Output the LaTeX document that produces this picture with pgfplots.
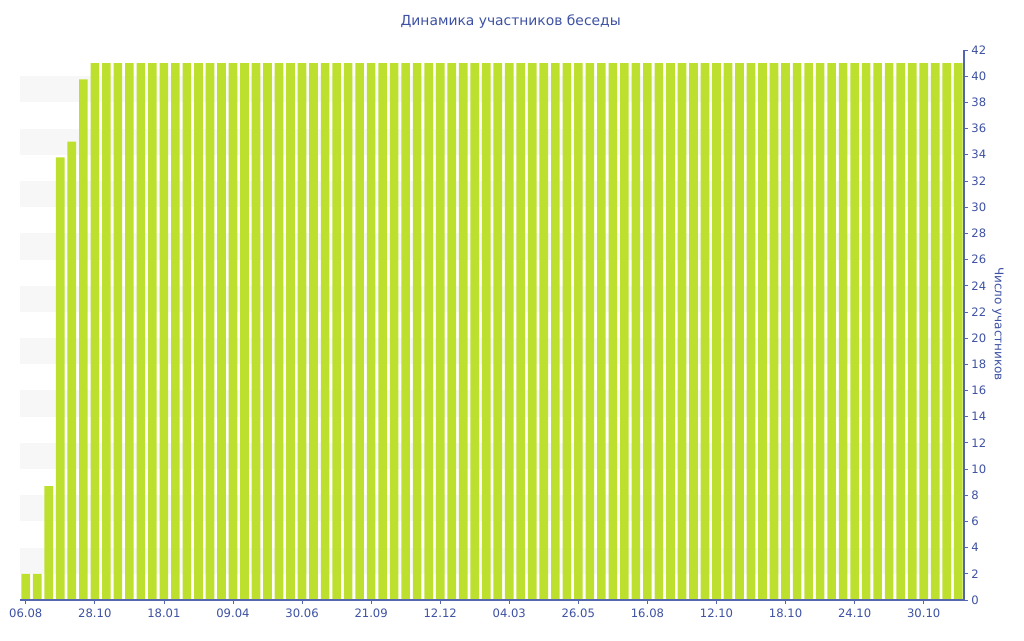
\documentclass[border=0pt]{standalone}
\usepackage{fontspec}
\setmainfont{DejaVu Sans}
\usepackage{pgfplots}
\pgfplotsset{compat=1.18}
\definecolor{barg}{HTML}{BDE02E}
\definecolor{txtb}{HTML}{3D51A2}
\definecolor{axb}{HTML}{5366AE}
\definecolor{band}{HTML}{F7F7F7}

\begin{document}
\begin{tikzpicture}
\path[use as bounding box] (-15pt,-30pt) rectangle (753pt,450pt);
\begin{axis}[
  at={(0,0)}, anchor=south west,
  scale only axis,
  width=708pt, height=412.5pt,
  xmin=-0.5, xmax=81.5,
  ymin=0, ymax=42,
  axis on top,
  axis x line*=bottom,
  axis y line*=right,
  axis line style={axb, line width=0.8pt},
  tick align=outside,
  major tick length=3pt,
  tick style={axb, line width=0.6pt},
  xtick={0,6,...,78},
  xticklabels={06.08,28.10,18.01,09.04,30.06,21.09,12.12,04.03,26.05,16.08,12.10,18.10,24.10,30.10},
  ytick={0,2,...,42},
  minor tick num=0,
  ticklabel style={font=\fontsize{8.7}{10}\selectfont, text=txtb},
  yticklabel style={xshift=-1pt},
  /pgf/number format/assume math mode=true,
  ybar, bar width=0.75,
]
\pgfplotsinvokeforeach{2,6,10,14,18,22,26,30,34,38}{
  \fill[band] (axis cs:-0.5,#1) rectangle (axis cs:81.5,#1+2);
}
\addplot[fill=barg, draw=none] coordinates {
(0,2) (1,2) (2,8.7) (3,33.8) (4,35) (5,39.75) (6,41) (7,41) (8,41) (9,41)
(10,41) (11,41) (12,41) (13,41) (14,41) (15,41) (16,41) (17,41) (18,41) (19,41)
(20,41) (21,41) (22,41) (23,41) (24,41) (25,41) (26,41) (27,41) (28,41) (29,41)
(30,41) (31,41) (32,41) (33,41) (34,41) (35,41) (36,41) (37,41) (38,41) (39,41)
(40,41) (41,41) (42,41) (43,41) (44,41) (45,41) (46,41) (47,41) (48,41) (49,41)
(50,41) (51,41) (52,41) (53,41) (54,41) (55,41) (56,41) (57,41) (58,41) (59,41)
(60,41) (61,41) (62,41) (63,41) (64,41) (65,41) (66,41) (67,41) (68,41) (69,41)
(70,41) (71,41) (72,41) (73,41) (74,41) (75,41) (76,41) (77,41) (78,41) (79,41)
(80,41) (81,41)
};
\end{axis}
\node[text=txtb, font=\fontsize{10.4}{12}\selectfont] at (368pt,433.5pt) {Динамика участников беседы};
\node[text=txtb, font=\fontsize{9}{11}\selectfont, rotate=-90] at (733.5pt,207pt) {Число участников};
\end{tikzpicture}
\end{document}
